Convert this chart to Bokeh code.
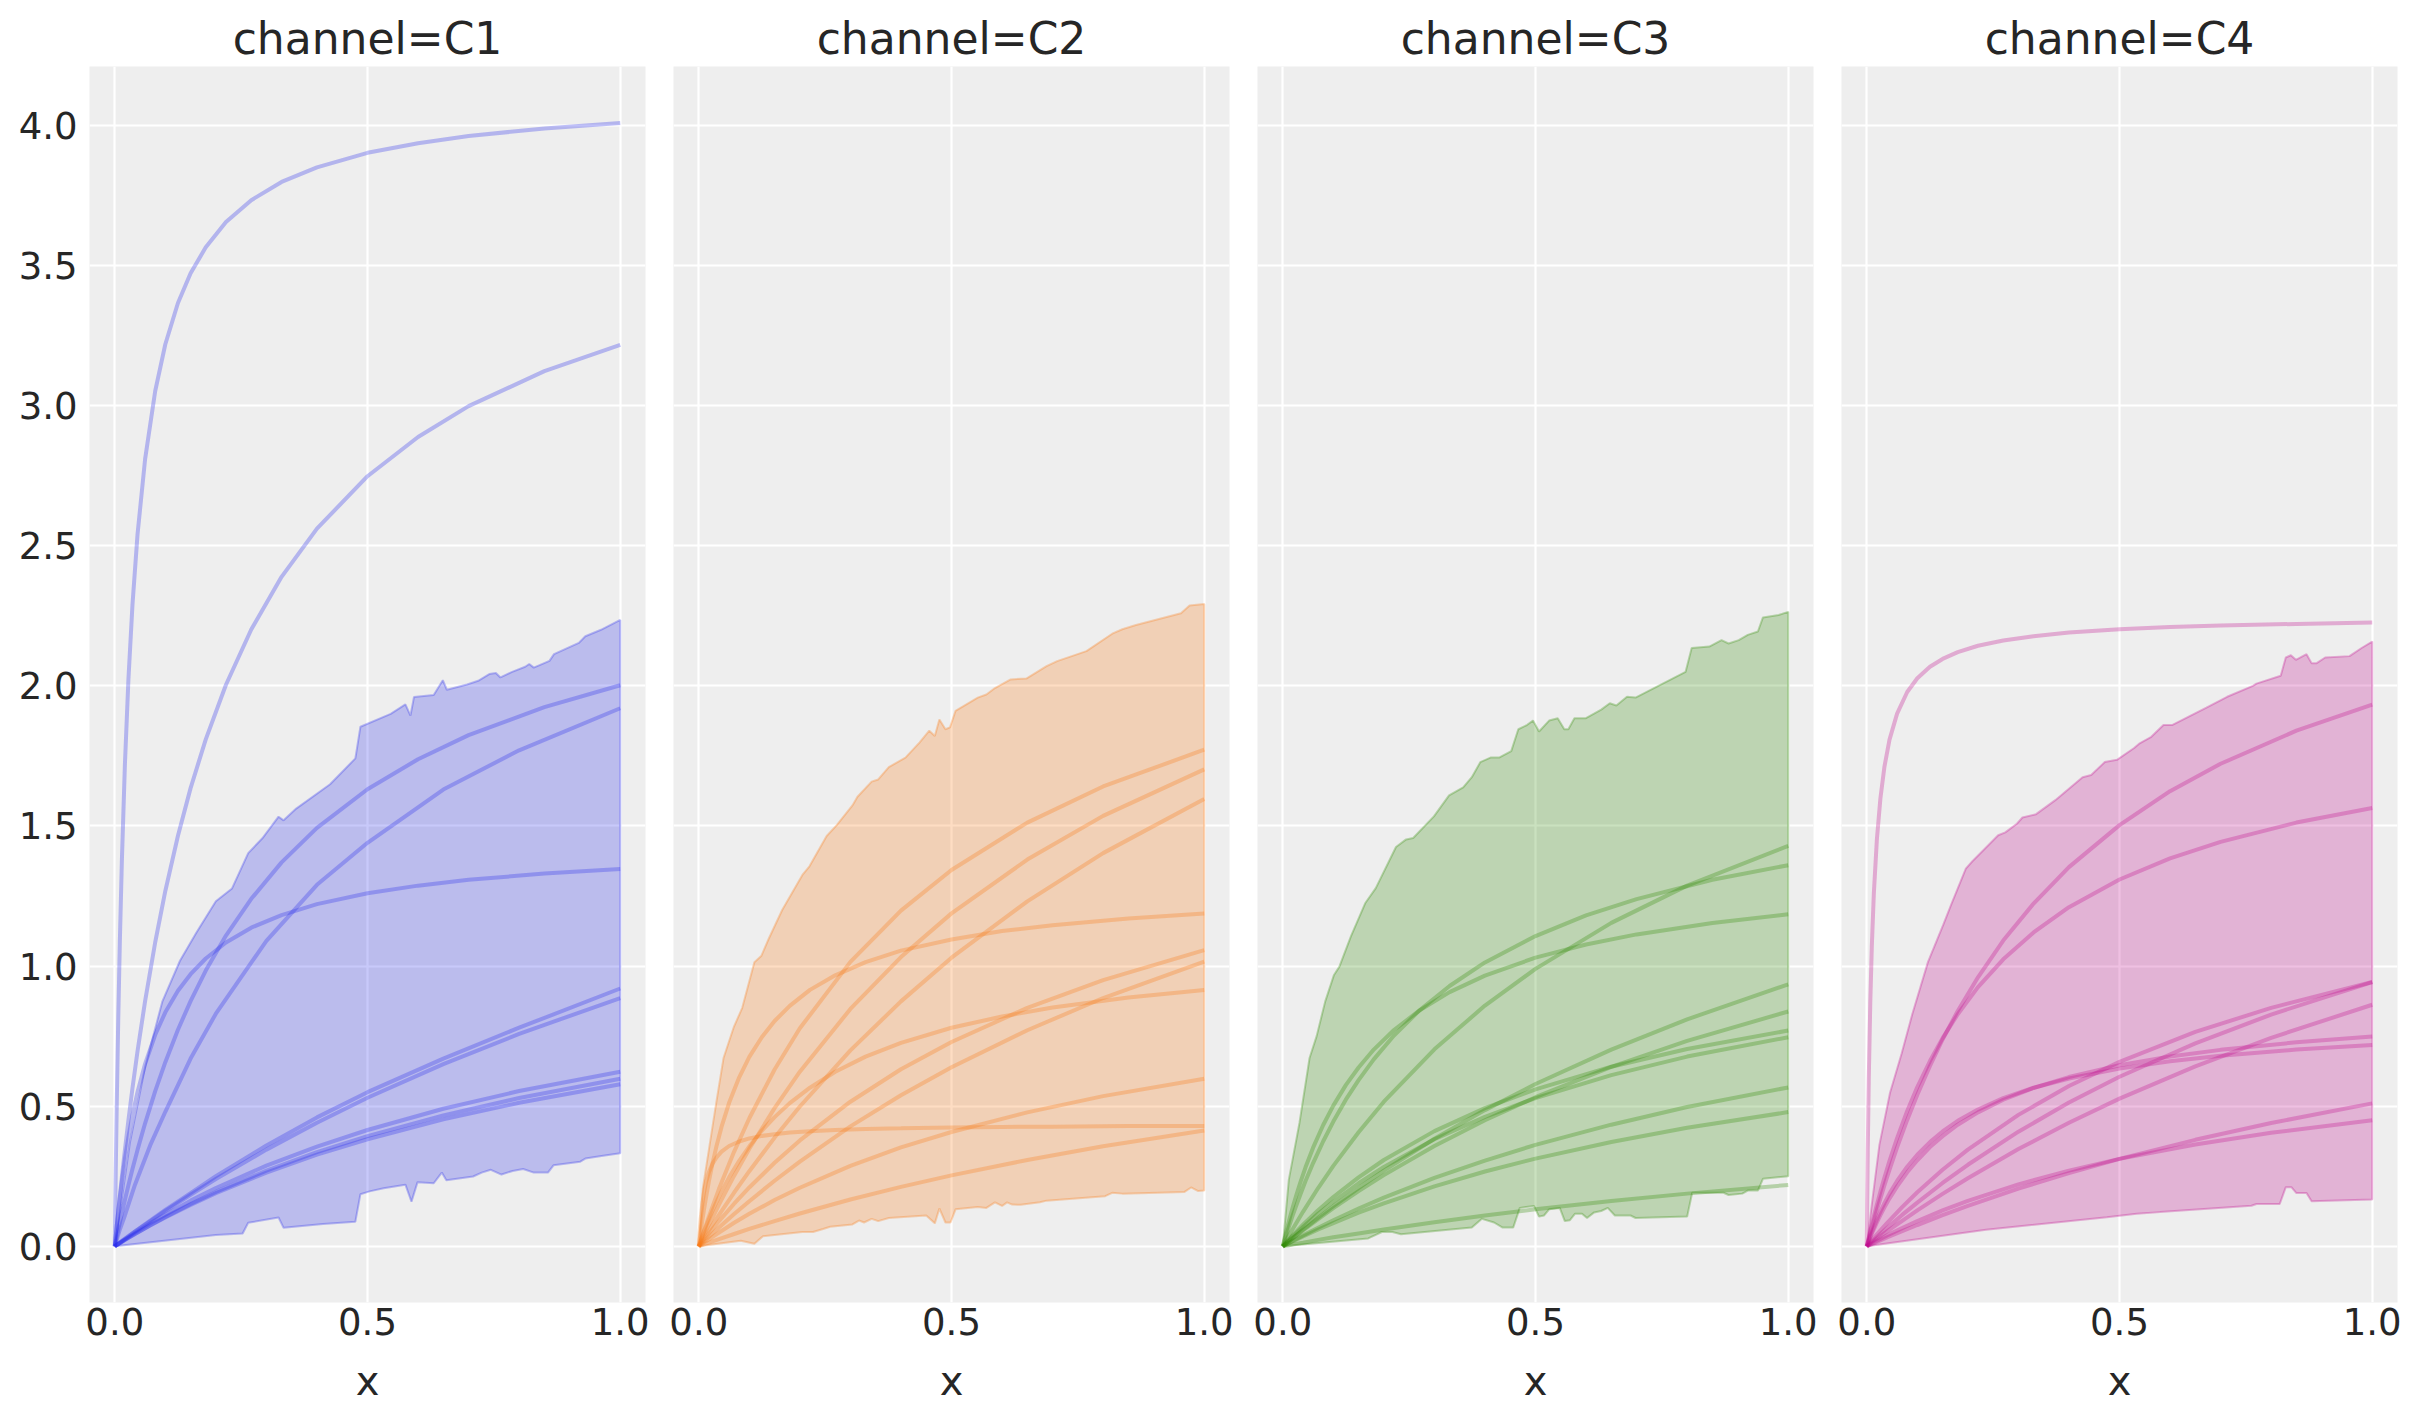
from bokeh.plotting import figure
from bokeh.layouts import row
from bokeh.models import FixedTicker, NumeralTickFormatter
from bokeh.embed import file_html
from bokeh.resources import INLINE

x_grid = [0, 0.005, 0.01, 0.02, 0.04, 0.07, 0.1, 0.15, 0.2, 0.3, 0.4, 0.5, 0.65, 0.8, 1.0]
# denser positions for the curves that bend sharply near the origin
x_fine = [0, 0.002, 0.004, 0.007, 0.01, 0.014, 0.02, 0.027, 0.035, 0.045, 0.06, 0.08, 0.1,
          0.125, 0.15, 0.18, 0.22, 0.27, 0.33, 0.4, 0.5, 0.6, 0.7, 0.85, 1.0]

channels = ["C1", "C2", "C3", "C4"]
colors = ["#2a2eec", "#fa7c17", "#328c06", "#c10c90"]

x_ticks = [0, 0.5, 1.0]
y_ticks = [0, 0.5, 1.0, 1.5, 2.0, 2.5, 3.0, 3.5, 4.0]

# ---- channel C1
c1_lines = [
    [0, 0.03, 0.06, 0.11, 0.22, 0.36, 0.48, 0.67, 0.83, 1.09, 1.29, 1.44, 1.63, 1.77, 1.92],
    [0, 0.007, 0.014, 0.027, 0.053, 0.092, 0.13, 0.19, 0.25, 0.36, 0.46, 0.55, 0.67, 0.78, 0.92],
    [0, 0.007, 0.013, 0.026, 0.052, 0.089, 0.126, 0.184, 0.24, 0.345, 0.441, 0.53, 0.65, 0.758, 0.886],
    [0, 0.006, 0.012, 0.024, 0.048, 0.082, 0.113, 0.163, 0.208, 0.288, 0.356, 0.415, 0.491, 0.554, 0.623],
    [0, 0.006, 0.011, 0.023, 0.044, 0.075, 0.105, 0.151, 0.194, 0.27, 0.336, 0.393, 0.467, 0.529, 0.598],
    [0, 0.006, 0.011, 0.022, 0.044, 0.074, 0.103, 0.148, 0.19, 0.263, 0.327, 0.382, 0.453, 0.512, 0.578],
]
c1_steep = [
    [0, 0.275, 0.515, 0.824, 1.084, 1.373, 1.717, 2.023, 2.289, 2.54, 2.809, 3.052, 3.219,
     3.366, 3.472, 3.565, 3.655, 3.733, 3.798, 3.85, 3.902, 3.936, 3.962, 3.989, 4.008],
    [0, 0.037, 0.074, 0.128, 0.18, 0.247, 0.343, 0.45, 0.564, 0.696, 0.875, 1.085, 1.268,
     1.465, 1.635, 1.809, 2.004, 2.201, 2.389, 2.561, 2.748, 2.888, 2.998, 3.123, 3.217],
    [0, 0.018, 0.035, 0.06, 0.085, 0.118, 0.165, 0.218, 0.276, 0.344, 0.439, 0.554, 0.657,
     0.773, 0.875, 0.984, 1.109, 1.24, 1.37, 1.493, 1.631, 1.738, 1.824, 1.924, 2.002],
    [0, 0.039, 0.075, 0.126, 0.174, 0.232, 0.311, 0.39, 0.468, 0.551, 0.651, 0.755, 0.835,
     0.912, 0.971, 1.027, 1.084, 1.137, 1.182, 1.221, 1.26, 1.287, 1.308, 1.33, 1.346],
]
c1_hdi_hi_x = [0, 0.01, 0.03, 0.06, 0.094, 0.129, 0.161, 0.2, 0.232, 0.264, 0.292, 0.324, 0.334, 0.359,
               0.426, 0.476, 0.486, 0.546, 0.575, 0.585, 0.592, 0.631, 0.649, 0.657, 0.697, 0.719,
               0.741, 0.754, 0.763, 0.785, 0.812, 0.82, 0.829, 0.86, 0.869, 0.918, 0.931, 0.962, 1.0]
c1_hdi_hi_y = [0, 0.12, 0.37, 0.64, 0.873, 1.019, 1.118, 1.231, 1.277, 1.403, 1.456, 1.533, 1.52, 1.562,
               1.649, 1.741, 1.854, 1.9, 1.934, 1.894, 1.96, 1.967, 2.02, 1.986, 2.005, 2.018,
               2.042, 2.046, 2.03, 2.049, 2.068, 2.078, 2.065, 2.089, 2.113, 2.153, 2.177, 2.2, 2.235]
c1_hdi_lo_x = [0, 0.2, 0.253, 0.264, 0.324, 0.334, 0.412, 0.476, 0.486, 0.504, 0.532, 0.575, 0.587,
               0.599, 0.631, 0.647, 0.656, 0.709, 0.726, 0.744, 0.765, 0.787, 0.808, 0.829, 0.857,
               0.868, 0.921, 0.931, 0.963, 1.0]
c1_hdi_lo_y = [0, 0.04, 0.046, 0.084, 0.103, 0.066, 0.08, 0.088, 0.186, 0.196, 0.207, 0.22, 0.159,
               0.229, 0.225, 0.263, 0.236, 0.249, 0.263, 0.273, 0.256, 0.269, 0.276, 0.263, 0.263,
               0.289, 0.302, 0.313, 0.322, 0.332]

# ---- channel C2
c2_lines = [
    [0, 0.027, 0.054, 0.106, 0.205, 0.338, 0.457, 0.631, 0.778, 1.015, 1.198, 1.343, 1.512, 1.641, 1.772],
    [0, 0.02, 0.039, 0.077, 0.149, 0.252, 0.348, 0.493, 0.623, 0.847, 1.032, 1.188, 1.38, 1.536, 1.702],
    [0, 0.014, 0.029, 0.057, 0.112, 0.192, 0.268, 0.388, 0.499, 0.699, 0.874, 1.03, 1.231, 1.403, 1.596],
    [0, 0.012, 0.023, 0.046, 0.09, 0.152, 0.21, 0.298, 0.378, 0.516, 0.632, 0.729, 0.851, 0.95, 1.057],
    [0, 0.009, 0.017, 0.034, 0.067, 0.115, 0.161, 0.234, 0.302, 0.428, 0.539, 0.639, 0.771, 0.886, 1.016],
    [0, 0.006, 0.013, 0.025, 0.049, 0.084, 0.116, 0.165, 0.209, 0.287, 0.353, 0.408, 0.478, 0.536, 0.598],
    [0, 0.003, 0.007, 0.013, 0.026, 0.044, 0.062, 0.09, 0.117, 0.167, 0.212, 0.253, 0.308, 0.357, 0.413],
]
c2_steep = [
    [0, 0.028, 0.054, 0.092, 0.127, 0.171, 0.232, 0.294, 0.357, 0.426, 0.512, 0.603, 0.676,
     0.747, 0.804, 0.858, 0.915, 0.967, 1.014, 1.055, 1.095, 1.125, 1.146, 1.17, 1.188],
    [0, 0.01, 0.021, 0.036, 0.05, 0.069, 0.096, 0.126, 0.158, 0.195, 0.246, 0.305, 0.357,
     0.413, 0.461, 0.511, 0.566, 0.623, 0.677, 0.726, 0.78, 0.82, 0.852, 0.888, 0.915],
    [0, 0.058, 0.102, 0.152, 0.189, 0.226, 0.264, 0.294, 0.317, 0.338, 0.358, 0.374, 0.385,
     0.394, 0.4, 0.406, 0.411, 0.415, 0.419, 0.421, 0.424, 0.426, 0.427, 0.429, 0.429],
]
c2_hdi_hi_x = [0, 0.008, 0.035, 0.049, 0.069, 0.086, 0.11, 0.124, 0.137, 0.165, 0.205, 0.219, 0.253,
               0.273, 0.304, 0.314, 0.342, 0.355, 0.376, 0.409, 0.437, 0.456, 0.467, 0.476, 0.488,
               0.497, 0.508, 0.552, 0.569, 0.586, 0.617, 0.648, 0.688, 0.709, 0.767, 0.818, 0.838,
               0.865, 0.954, 0.971, 1.0]
c2_hdi_hi_y = [0, 0.207, 0.517, 0.672, 0.781, 0.851, 1.014, 1.037, 1.092, 1.2, 1.325, 1.356, 1.464,
               1.503, 1.573, 1.604, 1.658, 1.666, 1.71, 1.744, 1.798, 1.84, 1.821, 1.88, 1.845,
               1.852, 1.911, 1.958, 1.969, 1.992, 2.023, 2.026, 2.07, 2.088, 2.124, 2.186, 2.202,
               2.217, 2.259, 2.287, 2.292]
c2_hdi_lo_x = [0, 0.083, 0.11, 0.127, 0.205, 0.226, 0.246, 0.26, 0.304, 0.317, 0.327, 0.342, 0.355,
               0.376, 0.45, 0.467, 0.476, 0.488, 0.498, 0.508, 0.552, 0.569, 0.586, 0.6, 0.61, 0.62,
               0.637, 0.675, 0.688, 0.804, 0.818, 0.838, 0.961, 0.974, 0.988, 1.0]
c2_hdi_lo_y = [0, 0.02, 0.009, 0.036, 0.051, 0.051, 0.062, 0.07, 0.078, 0.092, 0.085, 0.098, 0.09,
               0.101, 0.11, 0.082, 0.135, 0.085, 0.085, 0.132, 0.14, 0.137, 0.157, 0.144, 0.157, 0.149,
               0.148, 0.157, 0.163, 0.179, 0.191, 0.188, 0.194, 0.21, 0.197, 0.199]

# ---- channel C3
c3_lines = [
    [0, 0.016, 0.032, 0.063, 0.123, 0.208, 0.287, 0.407, 0.516, 0.703, 0.859, 0.99, 1.154, 1.287, 1.429],
    [0, 0.008, 0.015, 0.03, 0.059, 0.102, 0.143, 0.208, 0.27, 0.384, 0.486, 0.579, 0.702, 0.81, 0.935],
    [0, 0.007, 0.015, 0.029, 0.057, 0.097, 0.136, 0.197, 0.254, 0.358, 0.45, 0.532, 0.64, 0.733, 0.838],
    [0, 0.01, 0.02, 0.04, 0.077, 0.129, 0.176, 0.246, 0.308, 0.411, 0.493, 0.56, 0.641, 0.704, 0.77],
    [0, 0.009, 0.018, 0.036, 0.069, 0.116, 0.159, 0.225, 0.283, 0.382, 0.462, 0.529, 0.611, 0.677, 0.746],
    [0, 0.005, 0.01, 0.02, 0.039, 0.066, 0.093, 0.135, 0.174, 0.244, 0.306, 0.362, 0.434, 0.497, 0.567],
    [0, 0.004, 0.009, 0.018, 0.035, 0.06, 0.083, 0.12, 0.153, 0.214, 0.267, 0.313, 0.372, 0.423, 0.479],
    [0, 0.002, 0.003, 0.007, 0.013, 0.023, 0.032, 0.046, 0.06, 0.086, 0.11, 0.132, 0.162, 0.188, 0.219],
]
c3_steep = [
    [0, 0.012, 0.024, 0.041, 0.058, 0.08, 0.112, 0.147, 0.186, 0.233, 0.297, 0.375, 0.445,
     0.524, 0.593, 0.667, 0.752, 0.841, 0.929, 1.013, 1.107, 1.181, 1.239, 1.308, 1.36],
    [0, 0.016, 0.031, 0.053, 0.074, 0.102, 0.141, 0.184, 0.229, 0.282, 0.352, 0.433, 0.502,
     0.576, 0.638, 0.702, 0.772, 0.841, 0.907, 0.966, 1.03, 1.077, 1.113, 1.154, 1.185],
]
c3_hdi_hi_x = [0, 0.012, 0.033, 0.053, 0.067, 0.084, 0.101, 0.112, 0.135, 0.163, 0.184, 0.224, 0.244,
               0.258, 0.299, 0.329, 0.357, 0.374, 0.391, 0.411, 0.428, 0.452, 0.466, 0.483, 0.495,
               0.507, 0.527, 0.544, 0.557, 0.565, 0.577, 0.599, 0.63, 0.647, 0.66, 0.681, 0.698,
               0.797, 0.809, 0.844, 0.868, 0.882, 0.902, 0.92, 0.94, 0.95, 0.981, 1.0]
c3_hdi_hi_y = [0, 0.238, 0.44, 0.672, 0.75, 0.874, 0.967, 0.998, 1.107, 1.224, 1.278, 1.425, 1.452,
               1.457, 1.534, 1.609, 1.638, 1.674, 1.728, 1.744, 1.744, 1.767, 1.845, 1.86, 1.876,
               1.837, 1.876, 1.884, 1.845, 1.845, 1.884, 1.884, 1.915, 1.938, 1.93, 1.961, 1.958,
               2.05, 2.135, 2.14, 2.163, 2.151, 2.163, 2.182, 2.194, 2.244, 2.253, 2.264]
c3_hdi_lo_x = [0, 0.169, 0.196, 0.217, 0.234, 0.374, 0.394, 0.418, 0.435, 0.456, 0.469, 0.497, 0.507,
               0.517, 0.527, 0.548, 0.558, 0.568, 0.578, 0.592, 0.602, 0.616, 0.63, 0.643, 0.657,
               0.688, 0.698, 0.8, 0.81, 0.872, 0.882, 0.909, 0.92, 0.94, 0.95, 1.0]
c3_hdi_lo_y = [0, 0.028, 0.051, 0.051, 0.043, 0.067, 0.098, 0.085, 0.067, 0.067, 0.137, 0.144, 0.106,
               0.11, 0.132, 0.137, 0.09, 0.093, 0.116, 0.116, 0.101, 0.121, 0.126, 0.137, 0.11,
               0.11, 0.101, 0.106, 0.191, 0.191, 0.183, 0.188, 0.199, 0.199, 0.241, 0.25]

# ---- channel C4
c4_lines = [
    [0, 0.011, 0.022, 0.043, 0.083, 0.14, 0.193, 0.273, 0.345, 0.469, 0.572, 0.658, 0.765, 0.851, 0.943],
    [0, 0.008, 0.017, 0.033, 0.065, 0.112, 0.156, 0.226, 0.291, 0.409, 0.513, 0.605, 0.724, 0.827, 0.943],
    [0, 0.007, 0.014, 0.027, 0.053, 0.091, 0.128, 0.187, 0.243, 0.347, 0.441, 0.527, 0.642, 0.744, 0.862],
    [0, 0.004, 0.008, 0.016, 0.032, 0.054, 0.076, 0.111, 0.144, 0.206, 0.261, 0.312, 0.38, 0.44, 0.51],
    [0, 0.005, 0.01, 0.02, 0.039, 0.065, 0.09, 0.128, 0.162, 0.221, 0.27, 0.312, 0.363, 0.405, 0.45],
]
c4_steep = [
    [0, 0.346, 0.6, 0.875, 1.071, 1.26, 1.452, 1.599, 1.712, 1.808, 1.901, 1.978, 2.027,
     2.068, 2.096, 2.12, 2.143, 2.162, 2.177, 2.19, 2.202, 2.21, 2.215, 2.221, 2.226],
    [0, 0.014, 0.027, 0.047, 0.066, 0.092, 0.129, 0.171, 0.218, 0.274, 0.353, 0.451, 0.541,
     0.644, 0.738, 0.84, 0.96, 1.091, 1.223, 1.353, 1.503, 1.624, 1.722, 1.84, 1.933],
    [0, 0.016, 0.032, 0.055, 0.077, 0.106, 0.148, 0.195, 0.245, 0.305, 0.386, 0.483, 0.568,
     0.661, 0.743, 0.828, 0.925, 1.024, 1.12, 1.21, 1.309, 1.384, 1.443, 1.512, 1.564],
    [0, 0.009, 0.018, 0.032, 0.045, 0.061, 0.085, 0.111, 0.139, 0.171, 0.214, 0.264, 0.307,
     0.354, 0.393, 0.434, 0.478, 0.523, 0.565, 0.604, 0.646, 0.677, 0.701, 0.728, 0.749],
    [0, 0.011, 0.021, 0.036, 0.051, 0.069, 0.096, 0.124, 0.154, 0.188, 0.233, 0.284, 0.327,
     0.372, 0.41, 0.448, 0.488, 0.529, 0.566, 0.599, 0.634, 0.66, 0.68, 0.702, 0.718],
]
c4_hdi_hi_x = [0, 0.01, 0.025, 0.046, 0.069, 0.09, 0.121, 0.151, 0.168, 0.196, 0.209, 0.26, 0.274,
               0.297, 0.308, 0.335, 0.373, 0.427, 0.444, 0.471, 0.495, 0.529, 0.54, 0.563, 0.587,
               0.604, 0.672, 0.713, 0.764, 0.771, 0.819, 0.829, 0.839, 0.849, 0.87, 0.88, 0.89,
               0.907, 0.955, 0.979, 1.0]
c4_hdi_hi_y = [0, 0.15, 0.362, 0.548, 0.688, 0.828, 1.014, 1.146, 1.224, 1.348, 1.374, 1.467, 1.477,
               1.508, 1.53, 1.542, 1.592, 1.674, 1.682, 1.728, 1.736, 1.778, 1.795, 1.818, 1.86,
               1.86, 1.922, 1.961, 2.0, 2.008, 2.036, 2.101, 2.109, 2.093, 2.113, 2.081, 2.081,
               2.101, 2.106, 2.135, 2.158]
c4_hdi_lo_x = [0, 0.236, 0.475, 0.534, 0.58, 0.761, 0.771, 0.817, 0.829, 0.84, 0.85, 0.87, 0.88, 1.0]
c4_hdi_lo_y = [0, 0.059, 0.104, 0.116, 0.122, 0.145, 0.151, 0.151, 0.211, 0.211, 0.19, 0.19, 0.161, 0.167]

lines_by_channel = [c1_lines, c2_lines, c3_lines, c4_lines]
steep_by_channel = [c1_steep, c2_steep, c3_steep, c4_steep]
hdi_by_channel = [
    (c1_hdi_hi_x, c1_hdi_hi_y, c1_hdi_lo_x, c1_hdi_lo_y),
    (c2_hdi_hi_x, c2_hdi_hi_y, c2_hdi_lo_x, c2_hdi_lo_y),
    (c3_hdi_hi_x, c3_hdi_hi_y, c3_hdi_lo_x, c3_hdi_lo_y),
    (c4_hdi_hi_x, c4_hdi_hi_y, c4_hdi_lo_x, c4_hdi_lo_y),
]

FONT = "DejaVu Sans"
TEXT = "#262626"

figs = []
for i, ch in enumerate(channels):
    col = colors[i]
    p = figure(frame_width=556, frame_height=1236,
               x_range=(-0.05, 1.05), y_range=(-0.2005, 4.21),
               title="channel=" + ch,
               output_backend="svg", toolbar_location=None,
               background_fill_color="#eeeeee", border_fill_color="white",
               outline_line_color=None,
               min_border_left=89 if i == 0 else 14,
               min_border_right=8 if i == 3 else 14,
               min_border_top=66, min_border_bottom=90)

    # HDI band
    hx, hy, lx, ly = hdi_by_channel[i]
    p.patch(x=hx + lx[::-1], y=hy + ly[::-1], fill_color=col, fill_alpha=0.26,
            line_color=col, line_alpha=0.3, line_width=2)

    # sample curves
    curves = lines_by_channel[i]
    steep = steep_by_channel[i]
    p.multi_line(xs=[x_grid] * len(curves), ys=curves, line_color=col,
                 line_alpha=0.3, line_width=4)
    p.multi_line(xs=[x_fine] * len(steep), ys=steep, line_color=col,
                 line_alpha=0.3, line_width=4)

    p.title.text_font = FONT
    p.title.text_font_size = "44px"
    p.title.text_font_style = "normal"
    p.title.text_color = TEXT
    p.title.align = "center"
    p.title.standoff = 5

    p.xaxis.ticker = FixedTicker(ticks=x_ticks)
    p.yaxis.ticker = FixedTicker(ticks=y_ticks)
    p.xaxis.formatter = NumeralTickFormatter(format="0.0")
    p.yaxis.formatter = NumeralTickFormatter(format="0.0")
    p.axis.axis_line_color = None
    p.axis.major_tick_line_color = None
    p.axis.minor_tick_line_color = None
    p.axis.major_tick_out = 0
    p.axis.major_tick_in = 0
    p.axis.major_label_text_font = FONT
    p.axis.major_label_text_font_size = "37px"
    p.axis.major_label_text_color = TEXT
    p.xaxis.major_label_standoff = 5
    p.yaxis.major_label_standoff = 12
    p.xaxis.axis_label = "x"
    p.xaxis.axis_label_text_font = FONT
    p.xaxis.axis_label_text_font_size = "40px"
    p.xaxis.axis_label_text_font_style = "normal"
    p.xaxis.axis_label_text_color = TEXT
    p.xaxis.axis_label_standoff = 20
    if i > 0:
        p.yaxis.visible = False

    p.grid.grid_line_color = "white"
    p.grid.grid_line_width = 2.2
    figs.append(p)

layout = row(*figs)
open("out.html", "w").write(file_html(layout, INLINE))
